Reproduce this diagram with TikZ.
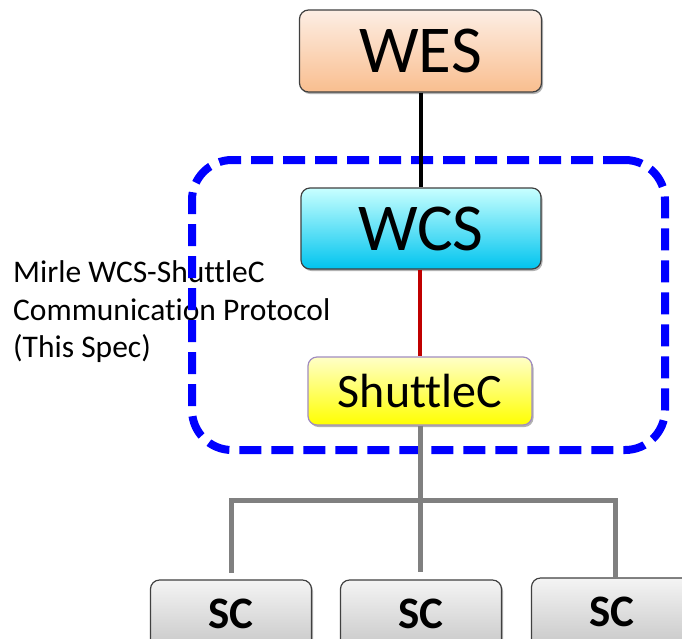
\documentclass[tikz,border=0pt]{standalone}
\usepackage{fontspec}
\setmainfont[Ligatures={NoCommon}]{Carlito}
\usetikzlibrary{shadows,calc}
\pgfdeclarelayer{back}
\pgfsetlayers{back,main}
\definecolor{wesTop}{HTML}{FDEEE4}
\definecolor{wesBot}{HTML}{F9BE8F}
\definecolor{wcsTop}{HTML}{C8FFFF}
\definecolor{wcsMid}{HTML}{00F4FF}
\definecolor{wcsBot}{HTML}{00C4EE}
\definecolor{shcTop}{HTML}{FFFFC8}
\definecolor{shcBot}{HTML}{FFFF00}
\definecolor{shcLine}{HTML}{A08CC0}
\definecolor{scTop}{HTML}{F4F4F4}
\definecolor{scBot}{HTML}{C4C4C4}
\definecolor{linkRed}{HTML}{C00000}
\definecolor{linkGray}{HTML}{808080}
\definecolor{grpBlue}{HTML}{0000FF}
\begin{document}
\begin{tikzpicture}[x=1pt,y=-1pt,
  boxbase/.style={rounded corners=9pt, line width=1.2pt, inner sep=0pt,
    drop shadow={shadow xshift=1.5pt, shadow yshift=-2pt, opacity=0.3, fill=black}},
  wesbox/.style={boxbase, draw=black!75, top color=wesTop, bottom color=wesBot,
    minimum width=242pt, minimum height=82pt, font=\fontsize{67}{70}\selectfont},
  wcsbox/.style={boxbase, draw=black!75, top color=wcsTop, middle color=wcsMid, bottom color=wcsBot,
    minimum width=240pt, minimum height=81pt, font=\fontsize{67}{70}\selectfont},
  shcbox/.style={boxbase, draw=shcLine, top color=shcTop, bottom color=shcBot,
    minimum width=224pt, minimum height=68pt, font=\fontsize{48}{52}\selectfont},
  scshape/.style={boxbase, draw=black!75, top color=scTop, bottom color=scBot},
  sctext/.style={anchor=north, inner sep=0pt, text height=38pt, text depth=0pt,
    font=\fontsize{45}{50}\selectfont\bfseries},
  lbl/.style={anchor=base west, inner sep=0pt, font=\fontsize{31.5}{37}\selectfont},
  grpbox/.style={draw=grpBlue, line width=8pt, dash pattern=on 22pt off 10pt,
    rounded corners=40pt, inner sep=0pt, minimum width=473pt, minimum height=290pt},
  blackline/.style={draw=black, line width=4pt},
  redline/.style={draw=linkRed, line width=4pt},
  grayline/.style={draw=linkGray, line width=5pt}
]
\clip (0,0) rectangle (682,638);
\begin{pgfonlayer}{back}
\fill[white] (0,0) rectangle (682,638);
\end{pgfonlayer}

% label
\node[lbl] (lab1) at (13,282) {Mirle WCS-ShuttleC};
\node[lbl] (lab2) at (13,320) {Communication Protocol};
\node[lbl] (lab3) at (13,357) {(This Spec)};

% group box
\node[grpbox] (grp) at (428.5,305) {};

% coordinates
\coordinate (hub) at (420,500);
\coordinate (hl) at (231,500);
\coordinate (hr) at (615,500);

% nodes
\node[wesbox] (wes) at (420.5,51) {WES};
\node[wcsbox] (wcs) at (421,228.5) {WCS};
\node[shcbox] (shc) at (420,391) {ShuttleC};
\node[sctext] (sc1) at (231,590) {SC};
\node[sctext] (sc2) at (421,590) {SC};
\node[sctext] (sc3) at (612,588) {SC};

% SC boxes (run past the bottom edge, as in the reference)
\begin{pgfonlayer}{back}
\draw[scshape] ($(sc1.north)+(-80.5,-10)$) rectangle ++(161,75);
\draw[scshape] ($(sc2.north)+(-80.5,-10)$) rectangle ++(161,75);
\draw[scshape] ($(sc3.north)+(-80.5,-10)$) rectangle ++(161,75);
\end{pgfonlayer}

% connectors
\draw[blackline] (wes.south) -- (wes.south |- wcs.north);
\draw[redline] (wcs.south -| shc.south) -- (shc.north);
\draw[grayline] (shc.south) -- (hub);
\draw[grayline, line cap=rect] (hl) -- (hr);
\draw[grayline] (hl) -- ([yshift=17pt]hl |- sc1.north);
\draw[grayline] (hub) -- ([yshift=18pt]hub |- sc2.north);
\draw[grayline] (hr) -- ([yshift=10pt]hr |- sc3.north);
\end{tikzpicture}
\end{document}
